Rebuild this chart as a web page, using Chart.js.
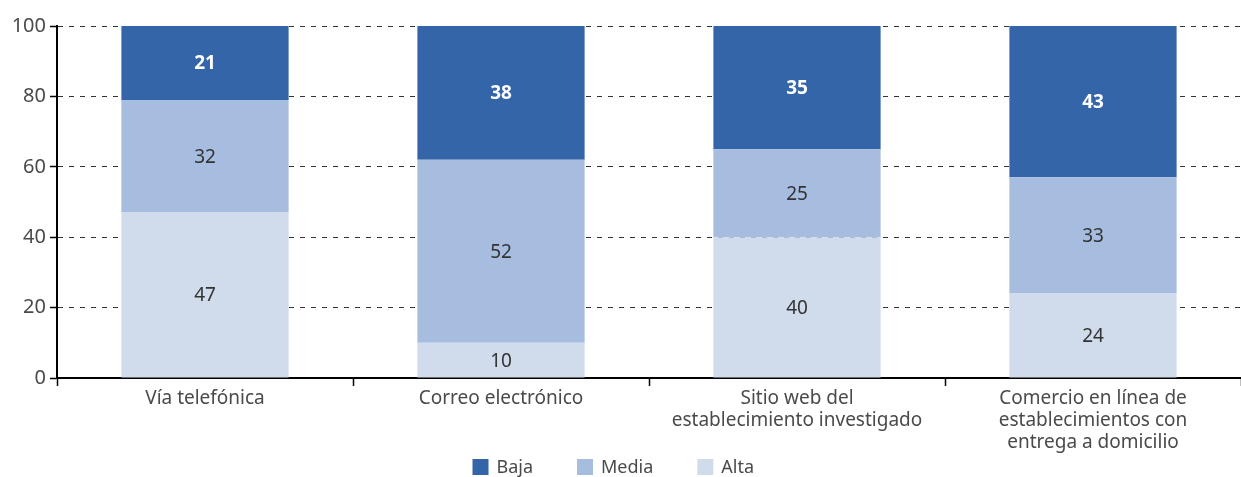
<!DOCTYPE html>
<html>
<head>
<meta charset="utf-8">
<script src="https://cdn.jsdelivr.net/npm/chart.js@4/dist/chart.umd.min.js"></script>
<style>
  html, body { margin: 0; padding: 0; background: #fff; }
  #wrap { width: 1241px; height: 477px; position: relative; }
</style>
</head>
<body>
<div id="wrap"><canvas id="chart"></canvas></div>
<script>
const categories = [
    'Vía telefónica',
    'Correo electrónico',
    ['Sitio web del', 'establecimiento investigado'],
    ['Comercio en línea de', 'establecimientos con', 'entrega a domicilio']
];
const altaValues = [47, 10, 40, 24];
const mediaValues = [32, 52, 25, 33];
const bajaValues = [21, 38, 35, 43];
const yTicks = [0, 20, 40, 60, 80, 100];

const textColor = '#4a4a4a';
const fontFamily = '"Noto Sans", "Open Sans", sans-serif';

// Draw the value inside every bar segment
const barLabels = {
    id: 'barLabels',
    afterDatasetsDraw(chart) {
        const ctx = chart.ctx;
        ctx.save();
        ctx.textAlign = 'center';
        ctx.textBaseline = 'middle';
        chart.data.datasets.forEach((ds, i) => {
            const meta = chart.getDatasetMeta(i);
            meta.data.forEach((bar, j) => {
                const mid = (bar.y + bar.base) / 2;
                if (ds.label === 'Baja') {
                    ctx.fillStyle = '#fff';
                    ctx.font = 'bold 19px ' + fontFamily;
                } else {
                    ctx.fillStyle = '#333';
                    ctx.font = '19px ' + fontFamily;
                }
                ctx.fillText(ds.data[j], bar.x, mid + 1);
            });
        });
        ctx.restore();
    }
};

// Legend drawn at the bottom, items in reverse dataset order (Baja, Media, Alta)
const bottomLegend = {
    id: 'bottomLegend',
    afterDraw(chart) {
        const ctx = chart.ctx;
        const items = chart.data.datasets.slice().reverse();
        const box = 16, gapText = 8, gapItem = 44, yMid = 467;
        ctx.save();
        ctx.font = '18px ' + fontFamily;
        ctx.textBaseline = 'middle';
        ctx.textAlign = 'left';
        const widths = items.map(ds => box + gapText + ctx.measureText(ds.label).width);
        let x = chart.width / 2 - 148;
        items.forEach((ds, i) => {
            ctx.fillStyle = ds.backgroundColor;
            ctx.fillRect(x, yMid - box / 2, box, box);
            ctx.fillStyle = textColor;
            ctx.fillText(ds.label, x + box + gapText, yMid + 1);
            x += widths[i] + gapItem;
        });
        ctx.restore();
    }
};

new Chart(document.getElementById('chart'), {
    type: 'bar',
    data: {
        labels: categories,
        datasets: [
            { label: 'Alta', data: altaValues, backgroundColor: '#d0dcec' },
            { label: 'Media', data: mediaValues, backgroundColor: '#a6bde0' },
            { label: 'Baja', data: bajaValues, backgroundColor: '#3465a8' }
        ]
    },
    options: {
        responsive: true,
        maintainAspectRatio: false,
        animation: false,
        categoryPercentage: 1,
        barPercentage: 0.565,
        layout: { padding: { top: 26, right: 0, left: 0, bottom: 21 } },
        plugins: {
            tooltip: { enabled: false },
            legend: { display: false }
        },
        scales: {
            x: {
                stacked: true,
                border: { display: true, color: '#000', width: 2 },
                grid: {
                    offset: true,
                    drawOnChartArea: false,
                    drawTicks: true,
                    tickLength: 8,
                    tickColor: '#000',
                    tickWidth: 1.5
                },
                ticks: {
                    color: textColor,
                    padding: 1,
                    maxRotation: 0,
                    autoSkip: false,
                    font: { family: fontFamily, size: 19, lineHeight: 1.18 }
                },
                afterFit(scale) { scale.height = 78; }
            },
            y: {
                stacked: true,
                min: 0,
                max: 100,
                afterBuildTicks(scale) { scale.ticks = yTicks.map(v => ({ value: v })); },
                border: { display: true, color: '#000', width: 2, dash: [5, 6] },
                grid: {
                    color: '#333',
                    lineWidth: 1,
                    tickBorderDash: [],
                    tickLength: 7,
                    tickColor: '#000',
                    tickWidth: 1.5
                },
                ticks: {
                    color: textColor,
                    padding: 4,
                    font: { family: fontFamily, size: 20 }
                },
                afterFit(scale) { scale.width = 57; }
            }
        }
    },
    plugins: [barLabels, bottomLegend]
});
</script>
</body>
</html>
